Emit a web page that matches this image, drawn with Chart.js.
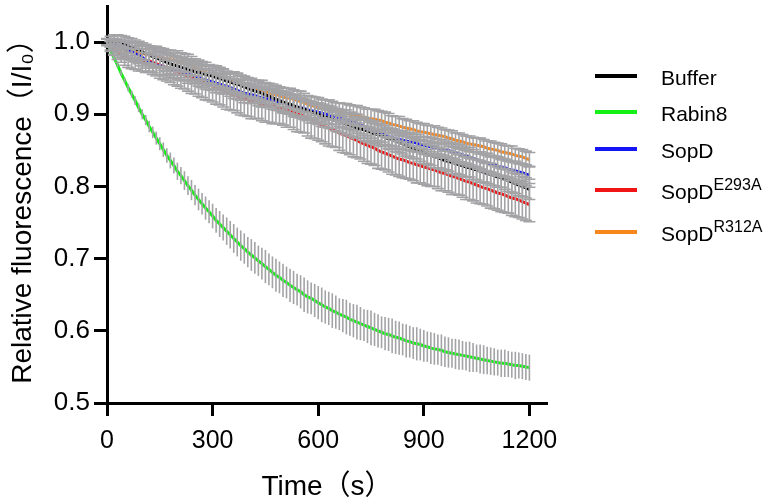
<!DOCTYPE html>
<html>
<head>
<meta charset="utf-8">
<script src="https://cdn.jsdelivr.net/npm/chart.js@4.4.1/dist/chart.umd.min.js"></script>
<style>
  html, body { margin:0; padding:0; background:#fff; }
  #wrap { position:relative; width:772px; height:504px; }
  #legend { position:absolute; left:0; top:0; font-family:'Liberation Sans', Arial, sans-serif; color:#000; }
  .li { position:absolute; left:595px; height:30px; display:flex; align-items:center; white-space:nowrap; }
  .sw { display:inline-block; width:42px; height:4px; }
  .tx { margin-left:24px; font-size:21px; position:relative; top:2px; }
  .tx sup { font-size:16px; position:relative; vertical-align:baseline; top:-9px; }
</style>
</head>
<body>
<div id="wrap">
  <canvas id="c" width="772" height="504"></canvas>
  <div id="legend"></div>
</div>
<script>
// ---------------- data ----------------
const TIME = [
  0,10,20,30,40,50,60,70,80,90,
  100,110,120,130,140,150,160,170,180,190,
  200,210,220,230,240,250,260,270,280,290,
  300,310,320,330,340,350,360,370,380,390,
  400,410,420,430,440,450,460,470,480,490,
  500,510,520,530,540,550,560,570,580,590,
  600,610,620,630,640,650,660,670,680,690,
  700,710,720,730,740,750,760,770,780,790,
  800,810,820,830,840,850,860,870,880,890,
  900,910,920,930,940,950,960,970,980,990,
  1000,1010,1020,1030,1040,1050,1060,1070,1080,1090,
  1100,1110,1120,1130,1140,1150,1160,1170,1180,1190,
  1200
];
const X_TICKS = [0, 300, 600, 900, 1200];
const Y_TICKS = [0.5, 0.6, 0.7, 0.8, 0.9, 1.0];
const SERIES_NAMES = ['Buffer', 'Rabin8', 'SopD', 'SopD', 'SopD'];
const SERIES_SUPS  = ['', '', '', 'E293A', 'R312A'];

const BUFFER = [
  1.000,1.001,1.001,1.000,0.999,0.997,0.995,0.993,0.991,0.989,
  0.987,0.984,0.982,0.980,0.978,0.976,0.974,0.972,0.970,0.968,
  0.967,0.965,0.964,0.962,0.961,0.959,0.958,0.957,0.955,0.954,
  0.953,0.951,0.950,0.948,0.946,0.945,0.943,0.942,0.940,0.938,
  0.936,0.934,0.932,0.931,0.929,0.927,0.925,0.923,0.921,0.919,
  0.917,0.915,0.914,0.912,0.910,0.908,0.907,0.905,0.903,0.902,
  0.900,0.898,0.896,0.895,0.893,0.891,0.890,0.888,0.886,0.885,
  0.883,0.881,0.880,0.878,0.877,0.875,0.873,0.872,0.870,0.868,
  0.866,0.865,0.863,0.861,0.859,0.857,0.855,0.853,0.851,0.849,
  0.847,0.845,0.843,0.841,0.840,0.838,0.836,0.835,0.833,0.832,
  0.830,0.829,0.827,0.826,0.824,0.823,0.821,0.820,0.818,0.817,
  0.815,0.813,0.812,0.810,0.808,0.806,0.804,0.802,0.800,0.798,
  0.796
];
const BUFFER_SD = [
  0.004,0.007,0.009,0.010,0.010,0.011,0.011,0.012,0.012,0.012,
  0.012,0.013,0.012,0.013,0.013,0.012,0.013,0.013,0.014,0.013,
  0.013,0.014,0.013,0.014,0.014,0.013,0.014,0.014,0.013,0.014,
  0.014,0.015,0.014,0.014,0.013,0.014,0.014,0.015,0.014,0.014,
  0.013,0.014,0.015,0.014,0.014,0.015,0.014,0.013,0.014,0.014,
  0.015,0.014,0.014,0.015,0.014,0.013,0.014,0.014,0.015,0.014,
  0.014,0.015,0.014,0.014,0.013,0.014,0.015,0.014,0.014,0.015,
  0.014,0.014,0.013,0.014,0.015,0.014,0.014,0.015,0.014,0.013,
  0.014,0.014,0.015,0.014,0.014,0.015,0.014,0.014,0.013,0.014,
  0.015,0.014,0.014,0.015,0.014,0.014,0.013,0.014,0.015,0.014,
  0.014,0.015,0.014,0.013,0.014,0.014,0.015,0.014,0.014,0.015,
  0.014,0.014,0.013,0.014,0.015,0.014,0.014,0.015,0.014,0.014,
  0.014
];
const RABIN8 = [
  1.000,0.989,0.978,0.968,0.957,0.947,0.937,0.928,0.919,0.909,
  0.900,0.892,0.883,0.875,0.867,0.859,0.851,0.843,0.836,0.829,
  0.821,0.815,0.808,0.801,0.795,0.788,0.782,0.776,0.770,0.765,
  0.759,0.753,0.748,0.743,0.738,0.733,0.728,0.723,0.718,0.714,
  0.709,0.705,0.701,0.697,0.693,0.689,0.685,0.681,0.677,0.674,
  0.670,0.667,0.663,0.660,0.657,0.654,0.650,0.647,0.645,0.642,
  0.639,0.636,0.633,0.631,0.628,0.626,0.623,0.621,0.619,0.616,
  0.614,0.612,0.610,0.608,0.606,0.604,0.602,0.600,0.598,0.596,
  0.595,0.593,0.591,0.590,0.588,0.586,0.585,0.583,0.582,0.581,
  0.579,0.578,0.576,0.575,0.574,0.573,0.571,0.570,0.569,0.568,
  0.567,0.566,0.565,0.564,0.563,0.562,0.561,0.560,0.559,0.558,
  0.557,0.556,0.555,0.555,0.554,0.553,0.552,0.552,0.551,0.550,
  0.549
];
const RABIN8_SD = [
  0.000,0.002,0.003,0.003,0.004,0.004,0.005,0.005,0.006,0.006,
  0.007,0.007,0.008,0.008,0.009,0.009,0.010,0.010,0.011,0.011,
  0.012,0.012,0.013,0.013,0.014,0.014,0.015,0.015,0.016,0.016,
  0.017,0.017,0.018,0.018,0.019,0.019,0.020,0.020,0.021,0.021,
  0.021,0.022,0.022,0.021,0.022,0.023,0.022,0.022,0.023,0.022,
  0.023,0.022,0.023,0.023,0.022,0.023,0.024,0.023,0.022,0.023,
  0.023,0.024,0.023,0.023,0.024,0.023,0.022,0.023,0.024,0.023,
  0.023,0.024,0.023,0.022,0.023,0.024,0.023,0.023,0.022,0.023,
  0.023,0.024,0.023,0.023,0.022,0.023,0.022,0.022,0.023,0.022,
  0.022,0.021,0.022,0.022,0.021,0.022,0.021,0.021,0.020,0.021,
  0.021,0.020,0.020,0.021,0.020,0.019,0.020,0.020,0.019,0.019,
  0.019,0.018,0.019,0.019,0.018,0.018,0.019,0.018,0.018,0.018,
  0.018
];
const SOPD = [
  1.000,0.999,0.997,0.995,0.993,0.991,0.989,0.987,0.984,0.982,
  0.979,0.975,0.972,0.970,0.968,0.967,0.966,0.964,0.963,0.962,
  0.961,0.959,0.958,0.956,0.955,0.953,0.951,0.949,0.948,0.946,
  0.945,0.943,0.942,0.940,0.939,0.937,0.935,0.933,0.931,0.929,
  0.928,0.927,0.926,0.924,0.923,0.922,0.921,0.920,0.918,0.917,
  0.916,0.914,0.913,0.911,0.910,0.909,0.908,0.906,0.905,0.904,
  0.903,0.902,0.900,0.899,0.898,0.897,0.895,0.894,0.893,0.891,
  0.889,0.887,0.885,0.883,0.881,0.879,0.877,0.875,0.873,0.871,
  0.869,0.868,0.866,0.865,0.864,0.863,0.862,0.861,0.860,0.858,
  0.857,0.856,0.855,0.854,0.853,0.852,0.851,0.850,0.848,0.847,
  0.845,0.844,0.842,0.841,0.839,0.837,0.836,0.834,0.833,0.831,
  0.830,0.828,0.827,0.826,0.824,0.823,0.822,0.820,0.819,0.817,
  0.816
];
const SOPD_SD = [
  0.004,0.006,0.008,0.009,0.010,0.010,0.011,0.011,0.011,0.012,
  0.012,0.011,0.012,0.012,0.013,0.012,0.012,0.011,0.012,0.012,
  0.013,0.012,0.012,0.013,0.012,0.011,0.012,0.012,0.013,0.012,
  0.012,0.013,0.012,0.012,0.011,0.012,0.013,0.012,0.012,0.013,
  0.012,0.012,0.011,0.012,0.013,0.012,0.012,0.013,0.012,0.011,
  0.012,0.012,0.013,0.012,0.012,0.013,0.012,0.011,0.012,0.012,
  0.013,0.012,0.012,0.013,0.012,0.011,0.012,0.012,0.013,0.012,
  0.012,0.013,0.012,0.012,0.011,0.012,0.013,0.012,0.012,0.013,
  0.012,0.012,0.011,0.012,0.013,0.012,0.012,0.013,0.012,0.011,
  0.012,0.012,0.013,0.012,0.012,0.013,0.012,0.011,0.012,0.012,
  0.013,0.012,0.012,0.013,0.012,0.011,0.012,0.012,0.013,0.012,
  0.012,0.013,0.012,0.012,0.011,0.012,0.013,0.012,0.012,0.013,
  0.012
];
const SOPD_E293A = [
  1.000,0.995,0.990,0.986,0.983,0.980,0.978,0.977,0.976,0.975,
  0.975,0.974,0.974,0.972,0.970,0.968,0.966,0.965,0.963,0.961,
  0.959,0.957,0.955,0.953,0.951,0.949,0.947,0.945,0.943,0.941,
  0.939,0.937,0.935,0.933,0.931,0.929,0.927,0.925,0.923,0.921,
  0.920,0.918,0.917,0.916,0.914,0.913,0.912,0.911,0.910,0.909,
  0.908,0.906,0.905,0.903,0.901,0.899,0.897,0.894,0.892,0.890,
  0.888,0.885,0.883,0.881,0.879,0.877,0.874,0.872,0.870,0.868,
  0.866,0.864,0.861,0.859,0.857,0.855,0.853,0.850,0.848,0.846,
  0.844,0.842,0.840,0.838,0.837,0.835,0.833,0.832,0.830,0.829,
  0.827,0.826,0.824,0.823,0.821,0.819,0.818,0.816,0.814,0.813,
  0.811,0.809,0.807,0.806,0.804,0.802,0.800,0.798,0.797,0.795,
  0.793,0.791,0.790,0.788,0.786,0.784,0.783,0.781,0.779,0.777,
  0.775
];
const SOPD_E293A_SD = [
  0.004,0.006,0.008,0.010,0.011,0.012,0.013,0.014,0.014,0.015,
  0.015,0.016,0.016,0.017,0.017,0.018,0.018,0.019,0.019,0.020,
  0.020,0.021,0.020,0.021,0.022,0.021,0.022,0.022,0.023,0.022,
  0.022,0.023,0.022,0.023,0.024,0.023,0.022,0.023,0.024,0.023,
  0.023,0.024,0.023,0.022,0.023,0.024,0.023,0.024,0.023,0.022,
  0.023,0.024,0.023,0.024,0.025,0.024,0.023,0.024,0.025,0.024,
  0.024,0.023,0.024,0.025,0.024,0.023,0.024,0.025,0.024,0.024,
  0.025,0.024,0.023,0.024,0.025,0.024,0.024,0.025,0.024,0.023,
  0.024,0.025,0.024,0.024,0.025,0.024,0.023,0.024,0.025,0.024,
  0.024,0.025,0.024,0.023,0.024,0.025,0.024,0.024,0.025,0.024,
  0.023,0.024,0.025,0.024,0.024,0.025,0.024,0.023,0.024,0.025,
  0.024,0.024,0.025,0.024,0.023,0.024,0.025,0.024,0.024,0.024,
  0.024
];
const SOPD_R312A = [
  1.000,0.994,0.992,0.991,0.990,0.989,0.988,0.987,0.986,0.985,
  0.984,0.983,0.982,0.981,0.980,0.979,0.978,0.977,0.976,0.975,
  0.974,0.972,0.971,0.969,0.967,0.965,0.962,0.960,0.958,0.956,
  0.955,0.953,0.952,0.950,0.948,0.946,0.945,0.943,0.941,0.939,
  0.938,0.937,0.935,0.934,0.933,0.931,0.930,0.928,0.927,0.926,
  0.924,0.923,0.922,0.921,0.919,0.918,0.916,0.914,0.912,0.911,
  0.909,0.908,0.907,0.906,0.905,0.904,0.903,0.902,0.901,0.900,
  0.899,0.898,0.897,0.896,0.895,0.894,0.893,0.892,0.891,0.889,
  0.888,0.886,0.885,0.884,0.882,0.881,0.880,0.879,0.877,0.876,
  0.875,0.874,0.873,0.872,0.871,0.870,0.869,0.867,0.866,0.864,
  0.863,0.862,0.860,0.859,0.858,0.857,0.856,0.855,0.853,0.852,
  0.851,0.850,0.848,0.847,0.846,0.845,0.843,0.842,0.841,0.839,
  0.837
];
const SOPD_R312A_SD = [
  0.005,0.007,0.009,0.010,0.011,0.012,0.012,0.012,0.013,0.013,
  0.013,0.012,0.013,0.013,0.014,0.013,0.013,0.012,0.013,0.013,
  0.014,0.013,0.013,0.014,0.013,0.012,0.013,0.013,0.014,0.013,
  0.013,0.014,0.013,0.013,0.012,0.013,0.014,0.013,0.013,0.014,
  0.013,0.013,0.012,0.013,0.014,0.013,0.013,0.014,0.013,0.012,
  0.013,0.013,0.014,0.013,0.013,0.014,0.013,0.012,0.013,0.013,
  0.014,0.013,0.013,0.014,0.013,0.012,0.013,0.013,0.014,0.013,
  0.013,0.014,0.013,0.013,0.012,0.013,0.014,0.013,0.013,0.014,
  0.013,0.012,0.012,0.013,0.012,0.012,0.011,0.012,0.012,0.011,
  0.012,0.011,0.011,0.012,0.011,0.011,0.010,0.011,0.011,0.010,
  0.011,0.010,0.010,0.011,0.010,0.010,0.011,0.010,0.010,0.011,
  0.010,0.010,0.011,0.010,0.010,0.011,0.010,0.010,0.010,0.010,
  0.010
];

// ---------------- styling ----------------
const FONT = "'Liberation Sans', Arial, 'Noto Sans CJK SC', sans-serif";
const COLORS = ['#000000', '#14f014', '#1515f5', '#f01414', '#f7861c'];
const ERR_COLOR = '#a3a3a6';
const SERIES = [BUFFER, RABIN8, SOPD, SOPD_E293A, SOPD_R312A];
const SERIES_SD = [BUFFER_SD, RABIN8_SD, SOPD_SD, SOPD_E293A_SD, SOPD_R312A_SD];
const CAPS = [6, 0, 6, 6, 6];

const datasets = SERIES.map((vals, i) => ({
  label: SERIES_NAMES[i] + (SERIES_SUPS[i] ? ' ' + SERIES_SUPS[i] : ''),
  data: vals.map((v, j) => ({ x: TIME[j], y: v })),
  errors: SERIES_SD[i],
  cap: CAPS[i],
  borderColor: COLORS[i],
  backgroundColor: COLORS[i],
  borderWidth: 3,
  pointRadius: 0,
  tension: 0,
  fill: false
}));

const errorBars = {
  id: 'errorBars',
  afterDatasetsDraw(chart) {
    const { ctx, scales: { x, y } } = chart;
    ctx.save();
    ctx.strokeStyle = ERR_COLOR;
    ctx.lineWidth = 1.6;
    chart.data.datasets.forEach((ds) => {
      const err = ds.errors || [];
      ds.data.forEach((p, j) => {
        const e = err[j];
        if (e == null || e <= 0) return;
        const px = x.getPixelForValue(p.x);
        const top = y.getPixelForValue(p.y + e);
        const bot = y.getPixelForValue(p.y - e);
        ctx.beginPath();
        ctx.moveTo(px, top); ctx.lineTo(px, bot);
        if (ds.cap > 0) {
          ctx.moveTo(px - ds.cap, top); ctx.lineTo(px + ds.cap, top);
          ctx.moveTo(px - ds.cap, bot); ctx.lineTo(px + ds.cap, bot);
        }
        ctx.stroke();
      });
    });
    ctx.restore();
  }
};

const ROW_CENTERS = [76, 112, 149, 190, 232];
const htmlLegend = {
  id: 'htmlLegend',
  afterUpdate(chart) {
    const box = document.getElementById('legend');
    box.innerHTML = '';
    chart.data.datasets.forEach((ds, i) => {
      const row = document.createElement('div');
      row.className = 'li';
      row.style.top = (ROW_CENTERS[i] - 15) + 'px';
      const sw = document.createElement('span');
      sw.className = 'sw';
      sw.style.background = ds.borderColor;
      const tx = document.createElement('span');
      tx.className = 'tx';
      tx.appendChild(document.createTextNode(SERIES_NAMES[i]));
      if (SERIES_SUPS[i]) {
        const s = document.createElement('sup');
        s.textContent = SERIES_SUPS[i];
        tx.appendChild(s);
      }
      row.appendChild(sw);
      row.appendChild(tx);
      box.appendChild(row);
    });
  }
};

new Chart(document.getElementById('c'), {
  type: 'line',
  data: { datasets },
  plugins: [errorBars, htmlLegend],
  options: {
    responsive: false,
    animation: false,
    devicePixelRatio: 1,
    layout: { padding: { top: 6, right: 225, left: 0, bottom: 0 } },
    plugins: { legend: { display: false }, tooltip: { enabled: false } },
    scales: {
      x: {
        type: 'linear',
        min: 0, max: 1250,
        afterBuildTicks: (s) => { s.ticks = X_TICKS.map(v => ({ value: v })); },
        afterFit: (s) => { s.height = 101; },
        border: { color: '#000', width: 3 },
        grid: { display: true, drawOnChartArea: false, drawTicks: true, tickLength: 13, tickWidth: 3, tickColor: '#000' },
        ticks: { color: '#000', font: { family: FONT, size: 25 }, padding: 10, maxRotation: 0, autoSkip: false,
                 callback: (v) => String(v) },
        title: { display: true, text: 'Time（s）', color: '#000', font: { family: FONT, size: 28 }, padding: { top: 0, bottom: 0 } }
      },
      y: {
        min: 0.5, max: 1.05,
        afterBuildTicks: (s) => { s.ticks = Y_TICKS.map(v => ({ value: v })); },
        afterFit: (s) => { s.width = 107; s.paddingTop = 0; s.paddingBottom = 0; },
        border: { color: '#000', width: 3 },
        grid: { display: true, drawOnChartArea: false, drawTicks: true, tickLength: 13, tickWidth: 3, tickColor: '#000' },
        ticks: { color: '#000', font: { family: FONT, size: 26 }, padding: 4, autoSkip: false,
                 callback: (v) => Number(v).toFixed(1) },
        title: { display: true, text: 'Relative fluorescence（I/I₀）', color: '#000', font: { family: FONT, size: 28 }, padding: { top: 6, bottom: 0 } }
      }
    }
  }
});
</script>
</body>
</html>
